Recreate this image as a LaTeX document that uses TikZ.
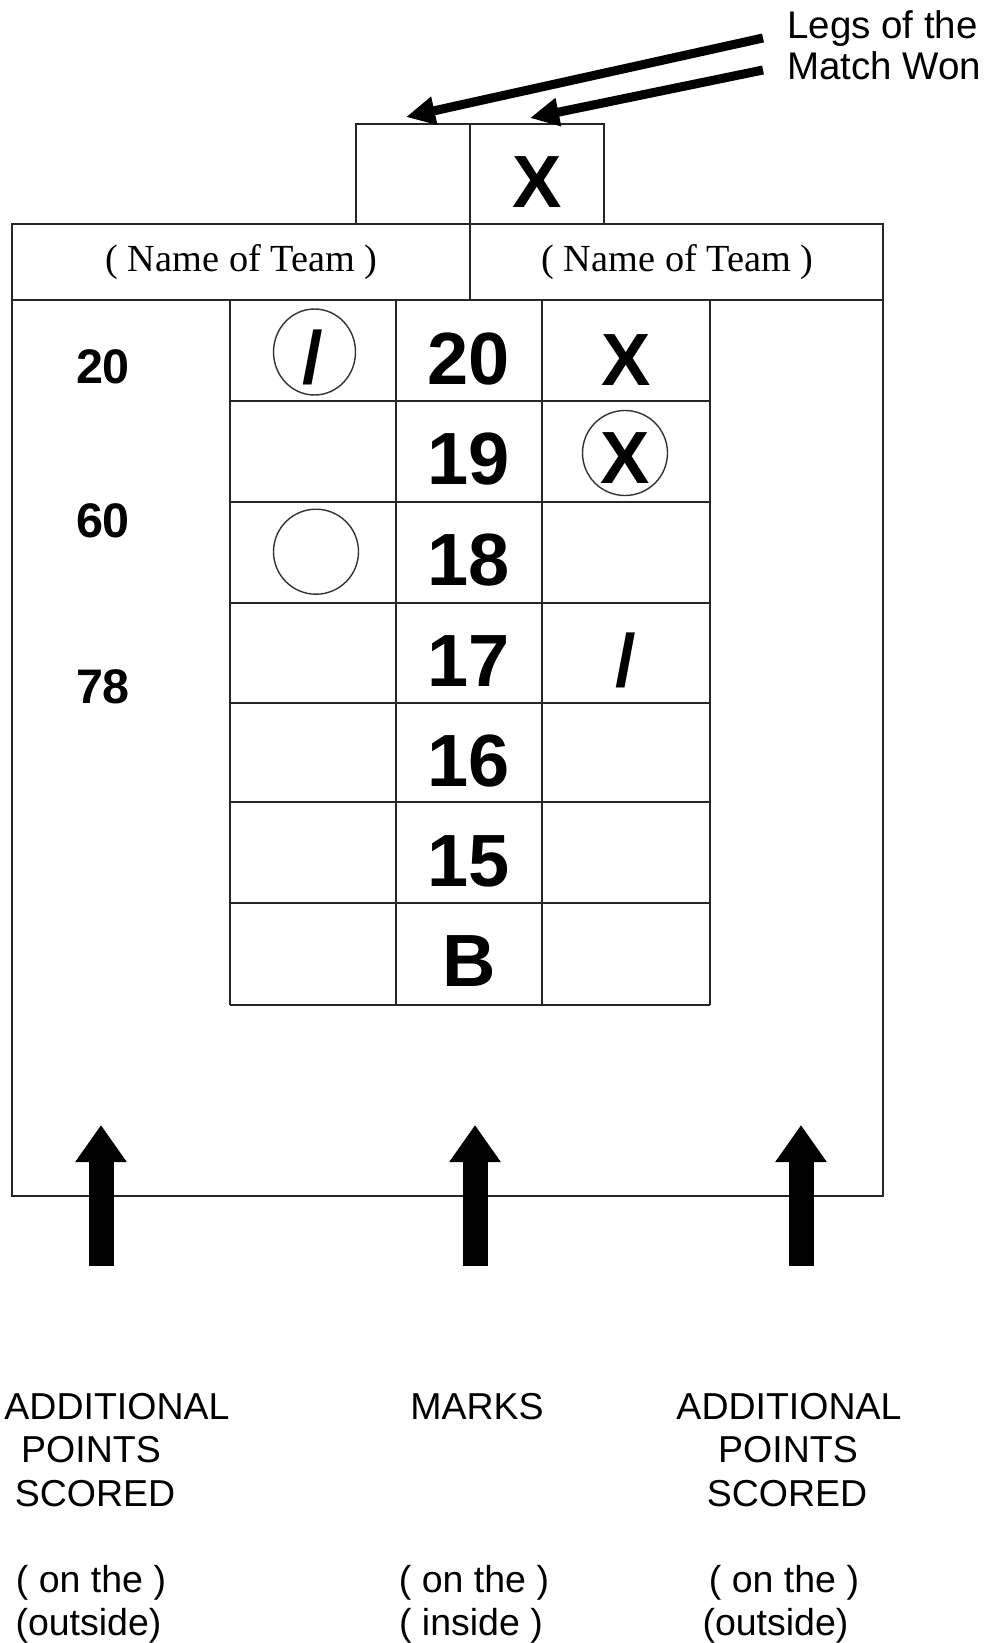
\documentclass[tikz,border=0pt]{standalone}
\usepackage{fontspec}
\setmainfont{Liberation Sans}
\newfontfamily\teamserif{Liberation Serif}
\usetikzlibrary{arrows.meta,shapes.geometric}
\begin{document}
\begin{tikzpicture}[x=1pt,y=-1pt,
  tbl/.style={line width=2pt, black!85},
  bignum/.style={inner sep=0pt, anchor=base, font=\fontsize{74}{80}\selectfont\bfseries},
  sidenum/.style={inner sep=0pt, anchor=base, font=\fontsize{48.5}{52}\selectfont\bfseries},
  bottomtxt/.style={inner sep=0pt, anchor=base, font=\fontsize{37.5}{40}\selectfont},
  legstxt/.style={inner sep=0pt, anchor=base west, font=\fontsize{38.5}{40}\selectfont},
  teamtxt/.style={inner sep=0pt, anchor=base, font=\teamserif\fontsize{38.3}{42}\selectfont},
  ring/.style={draw, line width=1.4pt, black!80, inner sep=0pt},
  thinarrow/.style={line width=9pt, -{Triangle[length=29pt,width=27pt]}},
  fatarrow/.style={line width=25pt, -{Triangle[length=37pt,width=49pt]}},
]
\useasboundingbox (0,0) rectangle (984,1643);

% ---------- top boxes (legs won) ----------
\draw[tbl] (356,124) rectangle (604,224);
\draw[tbl] (470,124) -- (470,224);
\node[bignum] (topx) at (537,207) {X};

% ---------- outer frame and header ----------
\draw[tbl] (12,224) rectangle (883,1196);
\draw[tbl] (12,300) -- (883,300);
\draw[tbl] (470,224) -- (470,300);
\node[teamtxt] (teamA) at (241.5,271.5) {( Name of Team )};
\node[teamtxt] (teamB) at (677.5,271.5) {( Name of Team )};

% ---------- inner grid ----------
\foreach \x in {229.5,396,542.3,710} \draw[tbl] (\x,300) -- (\x,1005);
\foreach \y in {401,502,602.7,703.3,802.3,903.3,1005} \draw[tbl] (229.5,\y) -- (710,\y);

% ---------- centre numbers ----------
\node[bignum] (n20) at (469,384) {20};
\node[bignum] (n19) at (469,484) {19};
\node[bignum] (n18) at (469,585) {18};
\node[bignum] (n17) at (469,686) {17};
\node[bignum] (n16) at (469,786) {16};
\node[bignum] (n15) at (469,886) {15};
\node[bignum] (nB)  at (469,986) {B};

% ---------- marks ----------
\node[bignum] (lslash) at (313,383) {/};
\node[ring, ellipse, minimum width=82pt, minimum height=86pt] (lring1) at (314.5,352) {};
\node[ring, circle, minimum size=85pt] (lring2) at (316,551.7) {};

\node[bignum] (rx1) at (626,385) {X};
\node[bignum] (rx2) at (625,483) {X};
\node[ring, circle, minimum size=85pt] (rring) at (625,453) {};
\node[bignum] (rslash) at (626,686) {/};

% ---------- side scores ----------
\node[sidenum] (s20) at (103,383.3) {20};
\node[sidenum] (s60) at (103,537.3) {60};
\node[sidenum] (s78) at (103,703.3) {78};

% ---------- legs label and arrows ----------
\node[legstxt] (legs1) at (787,39) {Legs of the};
\node[legstxt] (legs2) at (787,80) {Match Won};
\coordinate (a1s) at (763,38);
\coordinate (a1e) at (406,117);
\coordinate (a2s) at (763,70);
\coordinate (a2e) at (530,118);
\draw[thinarrow] (a1s) -- (a1e);
\draw[thinarrow] (a2s) -- (a2e);

% ---------- bottom arrows ----------
\coordinate (b1s) at (101,1266);
\coordinate (b1e) at (101,1125);
\coordinate (b2s) at (475,1266);
\coordinate (b2e) at (475,1125);
\coordinate (b3s) at (801,1266);
\coordinate (b3e) at (801,1125);
\draw[fatarrow] (b1s) -- (b1e);
\draw[fatarrow] (b2s) -- (b2e);
\draw[fatarrow] (b3s) -- (b3e);

% ---------- bottom labels ----------
\node[bottomtxt] (l1) at (117,1419) {ADDITIONAL};
\node[bottomtxt] (l2) at (91,1462) {POINTS};
\node[bottomtxt] (l3) at (95,1506.5) {SCORED};
\node[bottomtxt] (l4) at (91,1592) {( on the )};
\node[bottomtxt] (l5) at (88.5,1635.5) {(outside)};

\node[bottomtxt] (m1) at (477,1419) {MARKS};
\node[bottomtxt] (m4) at (474,1592) {( on the )};
\node[bottomtxt] (m5) at (471,1635.5) {( inside )};

\node[bottomtxt] (r1) at (789,1419) {ADDITIONAL};
\node[bottomtxt] (r2) at (788,1462) {POINTS};
\node[bottomtxt] (r3) at (787,1506.5) {SCORED};
\node[bottomtxt] (r4) at (784,1592) {( on the )};
\node[bottomtxt] (r5) at (775.5,1635.5) {(outside)};
\end{tikzpicture}
\end{document}
